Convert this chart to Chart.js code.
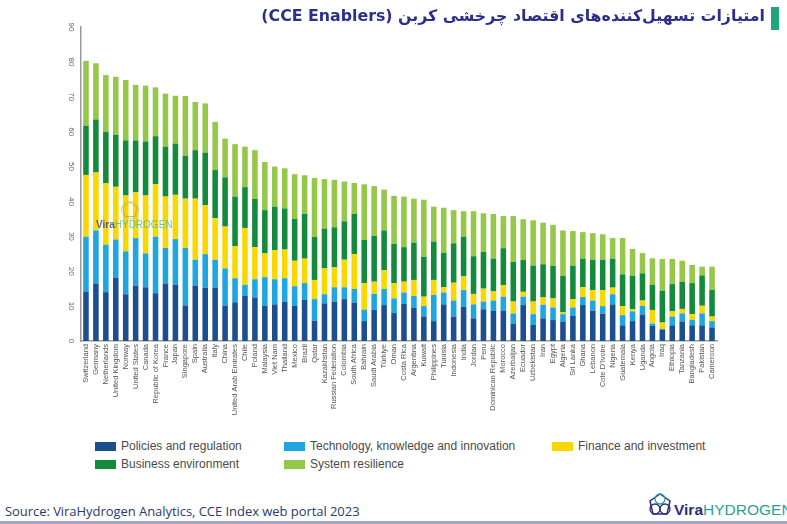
<!DOCTYPE html>
<html>
<head>
<meta charset="utf-8">
<script src="https://cdn.jsdelivr.net/npm/chart.js@4.4.0/dist/chart.umd.min.js"></script>
<style>
  body { margin: 0; width: 787px; height: 524px; background: #fff; position: relative; overflow: hidden; font-family: "Liberation Sans", Arial, sans-serif; }
  #wrap { position: absolute; left: 0; top: 0; width: 787px; height: 430px; }
  #title { position: absolute; right: 22px; top: 6px; direction: rtl; font: bold 15.8px "DejaVu Sans", sans-serif; color: #2b2f8c; white-space: nowrap; }
  #mark { position: absolute; left: 771px; top: 7px; width: 8px; height: 23px; background: #1ea57a; }
  .lg { position: absolute; font-size: 12px; color: #4a4a4a; white-space: nowrap; }
  .lg i { position: absolute; left: -26px; top: 3px; width: 21px; height: 9px; }
  #source { position: absolute; left: 5px; top: 502px; font: 13px "Open Sans", sans-serif; color: #2a3a6e; letter-spacing: -0.05px; }
  #line { position: absolute; left: 0; top: 521px; width: 787px; height: 3px; background: #a3a4c4; }
  #logo { position: absolute; left: 674px; top: 501px; font: 15.5px "Liberation Sans", sans-serif; white-space: nowrap; }
  #logo b { color: #2b2f7a; }
  #logo span { color: #1fa3a0; font-weight: normal; }
  #wm { position: absolute; left: 96px; top: 219px; font: 10px "Liberation Sans", sans-serif; opacity: 0.75; }
  #wm b { color: #2b2f7a; }
  #wm span { color: #3bb3a8; }
</style>
</head>
<body>
<div id="wrap"><canvas id="cce" width="787" height="430"></canvas></div>
<div id="mark"></div>
<div id="title">امتیازات تسهیل‌کننده‌های اقتصاد چرخشی کربن (CCE Enablers)</div>
<div id="legend"></div>
<svg style="position:absolute;left:120px;top:200px;opacity:0.7" width="20" height="20" viewBox="0 0 28 28">
  <polygon points="14,3 24,10 21,23 7,23 4,10" fill="none" stroke="#c9a227" stroke-width="1.5"/>
  <circle cx="14" cy="14" r="12" fill="none" stroke="#8fc3a0" stroke-width="1.2"/>
</svg>
<div id="wm"><b>Vira</b><span>HYDROGEN</span></div>
<div id="source">Source: ViraHydrogen Analytics, CCE Index web portal 2023</div>
<svg style="position:absolute;left:646px;top:490px" width="28" height="32" viewBox="0 0 28 32">
  <polygon points="14,4 24,11 21,24 7,24 4,11" fill="none" stroke="#2b2f7a" stroke-width="1.5"/>
  <circle cx="14" cy="9" r="5" fill="none" stroke="#1fa3a0" stroke-width="1.3"/>
  <circle cx="9" cy="19" r="5" fill="none" stroke="#2b2f7a" stroke-width="1.3"/>
  <circle cx="19" cy="19" r="5" fill="none" stroke="#2b2f7a" stroke-width="1.3"/>
</svg>
<div id="logo"><b>Vira</b><span>HYDROGEN</span></div>
<div id="line"></div>
<script>
// ---- data ----
const countries = ["Switzerland", "Germany", "Netherlands", "United Kingdom", "Norway", "United States", "Canada",
  "Republic of Korea", "France", "Japan", "Singapore", "Spain", "Australia", "Italy", "China", "United Arab Emirates",
  "Chile", "Poland", "Malaysia", "Viet Nam", "Thailand", "Mexico", "Brazil", "Qatar", "Kazakhstan",
  "Russian Federation", "Colombia", "South Africa", "Bahrain", "Saudi Arabia", "Türkiye", "Oman", "Costa Rica",
  "Argentina", "Kuwait", "Philippines", "Tunisia", "Indonesia", "India", "Jordan", "Peru", "Dominican Republic",
  "Morocco", "Azerbaijan", "Ecuador", "Uzbekistan", "Iran", "Egypt", "Algeria", "Sri Lanka", "Ghana", "Lebanon",
  "Cote D'Ivoire", "Nigeria", "Guatemala", "Kenya", "Uganda", "Angola", "Iraq", "Ethiopia", "Tanzania",
  "Bangladesh", "Pakistan", "Cameroon"];

const policies = [14.2, 16.5, 14.0, 18.2, 13.4, 15.9, 15.4, 13.7, 16.5, 16.1, 10.2, 15.9, 15.3, 15.3, 10.1, 11.1,
  12.9, 12.5, 10.1, 10.5, 11.3, 10.1, 11.8, 5.8, 10.8, 11.3, 12.0, 11.0, 5.7, 9.0, 10.3, 8.0, 10.6, 9.5, 7.0, 5.7,
  10.5, 7.0, 9.8, 6.5, 9.1, 8.6, 8.6, 5.0, 10.3, 4.6, 6.5, 6.0, 5.6, 7.2, 10.3, 8.7, 7.8, 10.5, 4.5, 5.7, 7.6, 4.3,
  3.3, 4.5, 5.6, 4.5, 4.5, 3.9];
const technology = [15.7, 15.2, 13.6, 10.9, 12.3, 13.6, 9.7, 16.2, 10.2, 13.1, 16.5, 7.4, 9.6, 8.0, 10.7, 6.9,
  3.2, 5.2, 8.2, 7.2, 6.7, 5.6, 4.8, 6.2, 2.6, 4.1, 3.4, 3.9, 3.3, 4.5, 4.6, 4.2, 3.3, 3.4, 3.0, 7.5, 3.4, 4.6, 4.8,
  4.0, 2.2, 3.0, 4.1, 2.9, 2.4, 3.1, 3.9, 3.6, 2.1, 2.4, 2.3, 2.9, 2.2, 2.9, 2.9, 2.8, 2.5, 0.7, 0.2, 2.5, 2.3, 1.6,
  3.4, 1.8];
const finance = [17.7, 16.6, 17.6, 15.1, 16.0, 13.1, 16.6, 15.1, 14.7, 12.7, 14.1, 17.5, 14.0, 11.9, 12.0, 9.2,
  16.3, 9.2, 6.8, 8.3, 8.2, 7.3, 7.0, 5.5, 7.4, 5.7, 7.9, 10.0, 7.6, 3.5, 5.4, 4.4, 3.1, 4.6, 2.7, 4.3, 1.5, 5.1, 3.9,
  3.0, 3.7, 2.6, 3.3, 3.4, 1.4, 3.6, 2.1, 2.6, 0.5, 2.4, 2.8, 3.0, 4.6, 1.9, 2.6, 0.6, 1.5, 3.9, 1.8, 1.5, 1.3, 1.6,
  2.2, 1.3];
const business = [14.1, 15.2, 14.8, 14.9, 15.8, 14.9, 15.5, 13.7, 14.3, 14.7, 12.3, 13.9, 15.1, 13.8, 14.1, 14.2,
  11.7, 13.8, 12.4, 12.5, 11.8, 12.0, 12.8, 12.3, 11.4, 11.5, 11.0, 11.5, 12.4, 13.1, 11.4, 11.2, 9.9, 10.7, 11.4,
  11.0, 9.9, 11.3, 11.4, 10.8, 10.5, 9.4, 10.6, 11.4, 9.1, 10.3, 9.5, 9.3, 10.5, 9.6, 8.2, 8.7, 8.7, 8.3, 9.1, 9.6,
  7.8, 7.2, 9.1, 7.8, 7.8, 8.9, 8.7, 7.6];
const resilience = [18.6, 16.1, 16.2, 16.6, 17.3, 15.9, 16.0, 14.0, 15.2, 13.7, 17.1, 13.8, 14.1, 13.8, 11.1, 15.0,
  11.6, 14.0, 13.8, 11.5, 11.5, 12.8, 11.1, 16.9, 14.2, 13.6, 11.4, 8.9, 15.9, 14.3, 11.7, 13.8, 14.5, 12.6, 16.4,
  10.0, 12.9, 9.5, 7.3, 12.9, 11.1, 12.8, 9.2, 13.1, 11.7, 13.0, 11.9, 11.8, 13.0, 9.9, 7.6, 7.6, 7.3, 5.9, 10.4,
  7.7, 5.8, 7.6, 9.1, 7.2, 6.0, 5.2, 2.5, 6.7];

const seriesNames = ["Policies and regulation", "Technology, knowledge and innovation", "Finance and investment",
  "Business environment", "System resilience"];
const seriesColors = ["#1d4f8f", "#1fa6e0", "#f8d800", "#138a3c", "#95c748"];
const yTicks = [0, 10, 20, 30, 40, 50, 60, 70, 80, 90];

// ---- legend (html, laid out in columns like the original) ----
const legendPos = [[121, 439], [310, 439], [578, 439], [121, 457], [310, 457]];
seriesNames.forEach(function (name, i) {
  const d = document.createElement("div");
  d.className = "lg";
  d.style.left = legendPos[i][0] + "px";
  d.style.top = legendPos[i][1] + "px";
  d.innerHTML = '<i style="background:' + seriesColors[i] + '"></i>' + name;
  document.getElementById("legend").appendChild(d);
});

// rotated y tick labels
const rotatedYTicks = {
  id: "rotatedYTicks",
  afterDraw(chart) {
    const y = chart.scales.y;
    const c = chart.ctx;
    c.save();
    c.fillStyle = "#666";
    c.font = "8px 'Liberation Sans', Arial, sans-serif";
    c.textAlign = "center";
    c.textBaseline = "middle";
    yTicks.forEach(function (v) {
      c.save();
      c.translate(71, y.getPixelForValue(v));
      c.rotate(Math.PI / 2);
      c.fillText(String(v), 0, 0);
      c.restore();
    });
    c.restore();
  }
};

const data = [policies, technology, finance, business, resilience];

new Chart(document.getElementById("cce").getContext("2d"), {
  type: "bar",
  data: {
    labels: countries,
    datasets: data.map(function (vals, i) {
      return {
        label: seriesNames[i],
        data: vals,
        backgroundColor: seriesColors[i],
        barPercentage: 0.56,
        categoryPercentage: 1.0
      };
    })
  },
  options: {
    responsive: false,
    animation: false,
    devicePixelRatio: 1,
    layout: { padding: { top: 27, right: 70, left: 0, bottom: 0 } },
    plugins: {
      legend: { display: false },
      tooltip: { enabled: false }
    },
    scales: {
      x: {
        stacked: true,
        grid: { display: false, drawTicks: false },
        border: { display: true, color: "#9a9a9a", width: 1.5 },
        ticks: {
          autoSkip: false,
          minRotation: 90,
          maxRotation: 90,
          padding: 3,
          color: "#555",
          font: { family: "'Liberation Sans', Arial, sans-serif", size: 7.5 }
        },
        afterFit(scale) { scale.height = 89; }
      },
      y: {
        stacked: true,
        min: 0,
        max: 90,
        grid: { display: false, drawTicks: false },
        border: { display: true, color: "#9a9a9a", width: 1.5 },
        ticks: { stepSize: 10, color: "rgba(0,0,0,0)", font: { size: 8 } },
        afterFit(scale) { scale.width = 81; }
      }
    }
  },
  plugins: [rotatedYTicks]
});
</script>
</body>
</html>
